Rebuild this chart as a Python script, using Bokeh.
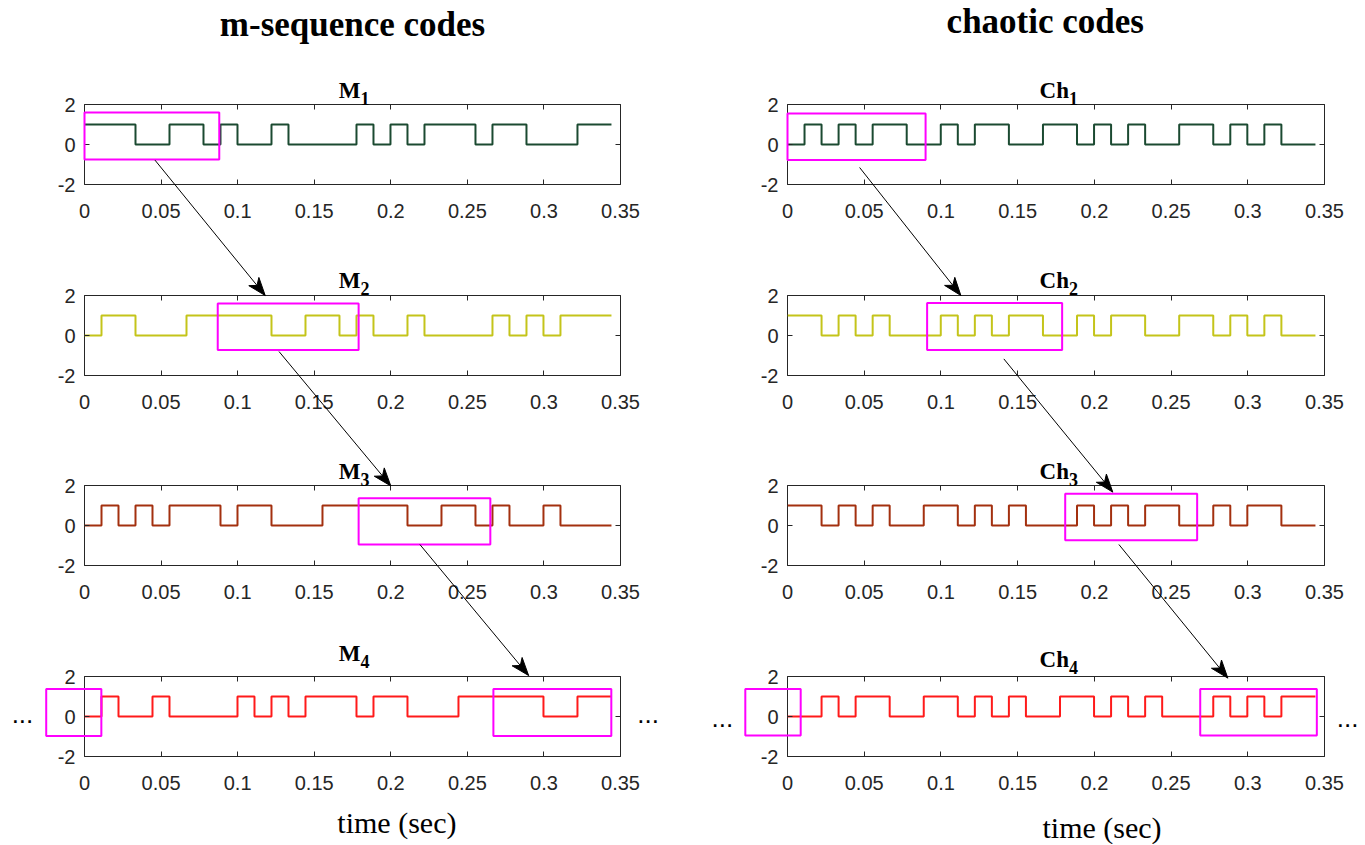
import math
from bokeh.plotting import figure
from bokeh.layouts import gridplot
from bokeh.models import Range1d, FixedTicker, LinearAxis
from bokeh.core.properties import value
from bokeh.embed import file_html
from bokeh.resources import INLINE

# ---------------------------------------------------------------- data
CHIP_DURATION = 0.0111          # seconds per chip (31 chips per code)

M1 = [1, 1, 1, 0, 0, 1, 1, 0, 1, 0, 0, 1, 0, 0, 0, 0, 1, 0, 1, 0, 1, 1, 1, 0, 1, 1, 0, 0, 0, 1, 1]
M2 = [0, 1, 1, 0, 0, 0, 1, 1, 1, 1, 1, 0, 0, 1, 1, 0, 1, 0, 0, 1, 0, 0, 0, 0, 1, 0, 1, 0, 1, 1, 1]
M3 = [0, 1, 0, 1, 0, 1, 1, 1, 0, 1, 1, 0, 0, 0, 1, 1, 1, 1, 1, 0, 0, 1, 1, 0, 1, 0, 0, 1, 0, 0, 0]
M4 = [0, 1, 0, 0, 1, 0, 0, 0, 0, 1, 0, 1, 0, 1, 1, 1, 0, 1, 1, 0, 0, 0, 1, 1, 1, 1, 1, 0, 0, 1, 1]

CH1 = [0, 1, 0, 1, 0, 1, 1, 0, 0, 1, 0, 1, 1, 0, 0, 1, 1, 0, 1, 0, 1, 0, 0, 1, 1, 0, 1, 0, 1, 0, 0]
CH2 = [1, 1, 0, 1, 0, 1, 0, 0, 0, 1, 0, 1, 0, 1, 1, 0, 0, 1, 0, 1, 1, 0, 0, 1, 1, 0, 1, 0, 1, 0, 0]
CH3 = [1, 1, 0, 1, 0, 1, 0, 0, 1, 1, 0, 1, 0, 1, 0, 0, 0, 1, 0, 1, 0, 1, 1, 0, 0, 1, 0, 1, 1, 0, 0]
CH4 = [0, 0, 1, 0, 1, 1, 0, 0, 1, 1, 0, 1, 0, 1, 0, 0, 1, 1, 0, 1, 0, 1, 0, 0, 0, 1, 0, 1, 0, 1, 1]

COLUMN_TITLES = ["m-sequence codes", "chaotic codes"]
PANEL_NAMES = ["M", "Ch"]
PANEL_SUBSCRIPTS = ["1", "2", "3", "4"]
X_LABEL = "time (sec)"
X_TICKS = [0, 0.05, 0.1, 0.15, 0.2, 0.25, 0.3, 0.35]
X_TICK_LABELS = ["0", "0.05", "0.1", "0.15", "0.2", "0.25", "0.3", "0.35"]
Y_TICKS = [-2, 0, 2]
Y_TICK_LABELS = ["-2", "0", "2"]

# highlight boxes (x0, x1, y0, y1) per panel
M_BOXES = [[(0.0, 0.088, -0.75, 1.6)],
           [(0.087, 0.179, -0.73, 1.6)],
           [(0.179, 0.265, -0.95, 1.36)],
           [(-0.025, 0.011, -0.97, 1.37), (0.267, 0.344, -0.97, 1.37)]]
CH_BOXES = [[(0.0, 0.090, -0.78, 1.55)],
            [(0.091, 0.179, -0.72, 1.63)],
            [(0.181, 0.267, -0.74, 1.59)],
            [(-0.0275, 0.0086, -0.95, 1.38), (0.269, 0.345, -0.95, 1.38)]]
# arrows from panel r to r+1: (x_start, y_start in panel r, x_end, y_end in panel r+1)
M_ARROWS = [(0.046, -0.78, 0.118, 2.0), (0.127, -0.80, 0.200, 1.98), (0.219, -0.95, 0.290, 2.05)]
CH_ARROWS = [(0.047, -1.15, 0.113, 2.0), (0.141, -1.17, 0.212, 1.67), (0.216, -0.95, 0.287, 1.92)]

# ---------------------------------------------------------------- style / layout
LINE_COLORS = ["#1B4A31", "#C4C41A", "#A3300F", "#FF1A1A"]
BOX_COLOR = "#FF00FF"
AXIS_COLOR = "#262626"

COL_W = [682, 683]
FRAME_LEFT = [84, 105]
FRAME_W = [536, 537]
ROW_H = [242, 190, 191, 221]
FRAME_TOP = [104, 53, 53, 53]
FRAME_H = 80
PX_PER_Y = FRAME_H / 4.0
ROW_START = [sum(ROW_H[:r]) for r in range(4)]
ZERO_PX = [ROW_START[r] + FRAME_TOP[r] + FRAME_H / 2 for r in range(4)]

BASELINE_FIX = 0.33                             # renderer puts text this many em lower
SUB_GAP = [[0, 1, 0, 9], [0, 1, 0, 3]]          # subscript baseline above frame (px)
SUB_DROP = 6
TITLE_DX = [8, 13]
HEADER = [dict(x=0.175, base=36), dict(x=0.168, base=33)]
XLAB = [dict(x=0.204, base=832), dict(x=0.205, base=837)]
DOTS = [dict(xl=-0.0405, xr=0.368, base=722), dict(xl=-0.0424, xr=0.365, base=726)]
HEAD_LEN, HEAD_HALF_W, HEAD_NOTCH = 18.0, 6.5, 5.0

columns = [
    dict(codes=[M1, M2, M3, M4], boxes=M_BOXES, arrows=M_ARROWS),
    dict(codes=[CH1, CH2, CH3, CH4], boxes=CH_BOXES, arrows=CH_ARROWS),
]


def y_at(row, px):
    """data y coordinate of a global pixel row inside panel row `row`"""
    return (ZERO_PX[row] - px) / PX_PER_Y


def style_axis(ax, ticks, labels, standoff, show_labels=True):
    ax.ticker = FixedTicker(ticks=ticks)
    ax.major_label_overrides = {t: l for t, l in zip(ticks, labels)}
    ax.major_tick_in = 5
    ax.major_tick_out = 0
    ax.major_tick_line_color = AXIS_COLOR
    ax.minor_tick_line_color = None
    ax.axis_line_color = None
    ax.major_label_standoff = standoff
    ax.major_label_text_font = "Liberation Sans"
    ax.major_label_text_font_size = "20px"
    ax.major_label_text_color = AXIS_COLOR if show_labels else None


def add_text(p, row, x, base_px, text, font, size, bold=False, align="center", x_offset=0):
    y = y_at(row, base_px - BASELINE_FIX * size)
    p.text(x=[x], y=[y], text=[text], text_font=value(font),
           text_font_size=value(f"{size}px"), text_font_style="bold" if bold else "normal",
           text_align=align, text_baseline="alphabetic", text_color="black",
           x_offset=x_offset, level="overlay")


grid = [[None, None] for _ in range(4)]
for c, col in enumerate(columns):
    px_per_x = FRAME_W[c] / 0.35
    for r in range(4):
        p = figure(width=COL_W[c], height=ROW_H[r],
                   x_range=Range1d(0, 0.35), y_range=Range1d(-2, 2),
                   output_backend="svg", toolbar_location=None, tools="",
                   min_border_left=FRAME_LEFT[c],
                   min_border_right=COL_W[c] - FRAME_LEFT[c] - FRAME_W[c],
                   min_border_top=FRAME_TOP[r],
                   min_border_bottom=ROW_H[r] - FRAME_TOP[r] - FRAME_H,
                   background_fill_color="white", border_fill_color="white")
        p.grid.visible = False
        p.outline_line_color = AXIS_COLOR
        p.outline_line_width = 1
        p.outline_line_alpha = 1

        style_axis(p.xaxis[0], X_TICKS, X_TICK_LABELS, 19)
        style_axis(p.yaxis[0], Y_TICKS, Y_TICK_LABELS, 9)
        top_ax = LinearAxis()
        style_axis(top_ax, X_TICKS, X_TICK_LABELS, 2, show_labels=False)
        p.add_layout(top_ax, "above")
        right_ax = LinearAxis()
        style_axis(right_ax, Y_TICKS, Y_TICK_LABELS, 2, show_labels=False)
        p.add_layout(right_ax, "right")

        code = col["codes"][r]
        xs = [i * CHIP_DURATION for i in range(len(code) + 1)]
        ys = code + [code[-1]]
        p.step(xs, ys, mode="after", line_color=LINE_COLORS[r], line_width=2)

        # highlight boxes
        bx = col["boxes"][r]
        p.quad(left=[b[0] for b in bx], right=[b[1] for b in bx],
               bottom=[b[2] for b in bx], top=[b[3] for b in bx],
               fill_color=None, line_color=BOX_COLOR, line_width=2, level="overlay")

        # panel title with subscript
        top_px = ZERO_PX[r] - FRAME_H / 2
        sub_base = top_px - SUB_GAP[c][r]
        add_text(p, r, 0.175, sub_base - SUB_DROP, PANEL_NAMES[c],
                 "Liberation Serif", 23, bold=True, align="right", x_offset=TITLE_DX[c])
        add_text(p, r, 0.175, sub_base, PANEL_SUBSCRIPTS[r],
                 "Liberation Serif", 18, bold=True, align="left", x_offset=TITLE_DX[c])

        if r == 0:
            h = HEADER[c]
            add_text(p, 0, h["x"], h["base"], COLUMN_TITLES[c],
                     "Liberation Serif", 35, bold=True)
        if r == 3:
            xl = XLAB[c]
            add_text(p, 3, xl["x"], xl["base"], X_LABEL, "Liberation Serif", 30)
            d = DOTS[c]
            for xd in (d["xl"], d["xr"]):
                add_text(p, 3, xd, d["base"], "...", "Liberation Sans", 26)
        grid[r][c] = p

    # connecting arrows, drawn in both neighbouring panels
    for k, (xs0, ys0, xe, ye) in enumerate(col["arrows"]):
        off = (ZERO_PX[k + 1] - ZERO_PX[k]) / PX_PER_Y
        for row, shift in ((k, -off), (k + 1, 0.0)):
            pp = grid[row][c]
            pp.segment(x0=[xs0], y0=[ys0 + off + shift], x1=[xe], y1=[ye + shift],
                       line_color="black", line_width=1, level="overlay")
        # notched arrowhead at the end point, in the lower panel
        pp = grid[k + 1][c]
        dxp = (xe - xs0) * px_per_x
        dyp = -(ye - (ys0 + off)) * PX_PER_Y
        n = math.hypot(dxp, dyp)
        ux, uy = dxp / n, dyp / n
        nx, ny = -uy, ux
        pts_px = [(0, 0),
                  (-HEAD_LEN * ux + HEAD_HALF_W * nx, -HEAD_LEN * uy + HEAD_HALF_W * ny),
                  (-(HEAD_LEN - HEAD_NOTCH) * ux, -(HEAD_LEN - HEAD_NOTCH) * uy),
                  (-HEAD_LEN * ux - HEAD_HALF_W * nx, -HEAD_LEN * uy - HEAD_HALF_W * ny)]
        hx = [xe + q[0] / px_per_x for q in pts_px]
        hy = [ye - q[1] / PX_PER_Y for q in pts_px]
        pp.patch(hx, hy, fill_color="black", line_color="black", line_width=1, level="overlay")

layout = gridplot(grid, toolbar_location=None)
open("out.html", "w").write(file_html(layout, INLINE))
